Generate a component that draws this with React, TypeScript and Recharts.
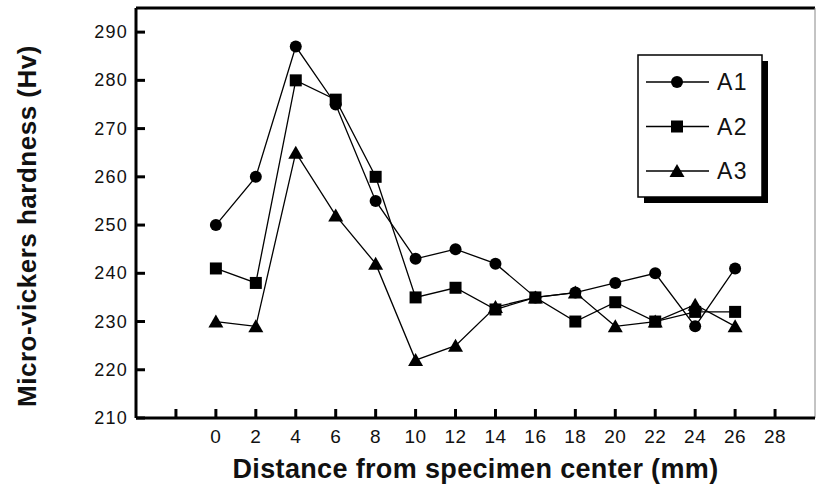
import { LineChart, Line, XAxis, YAxis, ReferenceLine } from "recharts"

const distance = [0, 2, 4, 6, 8, 10, 12, 14, 16, 18, 20, 22, 24, 26]
const a1 = [250, 260, 287, 275, 255, 243, 245, 242, 235, 236, 238, 240, 229, 241]
const a2 = [241, 238, 280, 276, 260, 235, 237, 232.5, 235, 230, 234, 230, 232, 232]
const a3 = [230, 229, 265, 252, 242, 222, 225, 233, 235, 236, 229, 230, 233.5, 229]
const xTicks = [-2, 0, 2, 4, 6, 8, 10, 12, 14, 16, 18, 20, 22, 24, 26, 28]
const yTicks = [210, 220, 230, 240, 250, 260, 270, 280, 290]

const data = distance.map((d, i) => ({ d, A1: a1[i], A2: a2[i], A3: a3[i] }))

const FONT = "'Liberation Sans', Arial, sans-serif"

function Marker({ cx, cy, shape }: { cx: number; cy: number; shape: string }) {
  if (shape === "circle") return <circle cx={cx} cy={cy} r={6} fill="#000" />
  if (shape === "square") return <rect x={cx - 6} y={cy - 6} width={12} height={12} fill="#000" />
  return <polygon points={`${cx},${cy - 7} ${cx + 7.5},${cy + 6} ${cx - 7.5},${cy + 6}`} fill="#000" />
}

const dot = (shape: string) => (p: any) => <Marker key={`${shape}-${p.index}`} cx={p.cx} cy={p.cy} shape={shape} />

function XTick(props: any) {
  const { x, y, payload } = props
  return (
    <g>
      <line x1={x} y1={y} x2={x} y2={y - 9} stroke="#000" strokeWidth={3} />
      {payload.value >= 0 && (
        <text x={x} y={y + 25} textAnchor="middle" fontSize={19} letterSpacing={0.5} fontFamily={FONT} fill="#111">
          {payload.value}
        </text>
      )}
    </g>
  )
}

function YTick(props: any) {
  const { x, y, payload } = props
  return (
    <g>
      <line x1={x} y1={y} x2={x + 9} y2={y} stroke="#000" strokeWidth={3} />
      <text x={x - 8} y={y + 6} textAnchor="end" fontSize={18} letterSpacing={1.2} fontFamily={FONT} fill="#111">
        {payload.value}
      </text>
    </g>
  )
}

const XTitle = (props: any) => {
  const vb = props.viewBox
  return (
    <text
      x={vb.x + vb.width / 2}
      y={478}
      textAnchor="middle"
      fontSize={27}
      letterSpacing={0.35}
      fontWeight={700}
      fontFamily={FONT}
      fill="#111"
    >
      Distance from specimen center (mm)
    </text>
  )
}

const YTitle = () => (
  <text
    x={0}
    y={0}
    transform="translate(36, 226) rotate(-90)"
    textAnchor="middle"
    fontSize={26}
    letterSpacing={0.5}
    fontWeight={700}
    fontFamily={FONT}
    fill="#111"
  >
    Micro-vickers hardness (Hv)
  </text>
)

// legend drawn outside the chart so it doesn't eat plot height
function LegendBox() {
  const rows = [
    { name: "A1", shape: "circle" },
    { name: "A2", shape: "square" },
    { name: "A3", shape: "triangle" },
  ]
  return (
    <svg width={134} height={152} style={{ position: "absolute", left: 637, top: 54 }}>
      <rect x={7} y={7} width={124} height={142} fill="#000" />
      <rect x={1} y={1} width={124} height={142} fill="#fff" stroke="#000" strokeWidth={1.5} />
      {rows.map((r, i) => {
        const cy = 28 + i * 44.5
        return (
          <g key={r.name}>
            <line x1={9} y1={cy} x2={72} y2={cy} stroke="#000" strokeWidth={1.3} />
            <Marker cx={40} cy={cy} shape={r.shape} />
            <text x={80} y={cy + 8} fontSize={23} letterSpacing={1.5} fontFamily={FONT} fill="#111">
              {r.name}
            </text>
          </g>
        )
      })}
    </svg>
  )
}

export default function App() {
  return (
    <div style={{ position: "absolute", left: 0, top: 0, width: 819, height: 495, background: "#fff" }}>
      <LineChart width={819} height={495} data={data} margin={{ top: 8, right: 4, left: 0, bottom: 0 }}>
        <XAxis
          dataKey="d"
          type="number"
          domain={[-4, 30]}
          ticks={xTicks}
          interval={0}
          tickSize={0}
          tickMargin={0}
          tickLine={false}
          tick={<XTick />}
          height={77}
          axisLine={{ stroke: "#000", strokeWidth: 3 }}
          label={<XTitle />}
        />
        <YAxis
          type="number"
          domain={[210, 295]}
          ticks={yTicks}
          interval={0}
          tickSize={0}
          tickMargin={0}
          tickLine={false}
          tick={<YTick />}
          width={136}
          axisLine={{ stroke: "#000", strokeWidth: 3 }}
          label={<YTitle />}
        />
        <ReferenceLine y={295} stroke="#000" strokeWidth={3} />
        <ReferenceLine x={30} stroke="#888" strokeWidth={1} />
        <Line dataKey="A3" stroke="#000" strokeWidth={1.3} dot={dot("triangle")} isAnimationActive={false} />
        <Line dataKey="A2" stroke="#000" strokeWidth={1.3} dot={dot("square")} isAnimationActive={false} />
        <Line dataKey="A1" stroke="#000" strokeWidth={1.3} dot={dot("circle")} isAnimationActive={false} />
      </LineChart>
      <LegendBox />
    </div>
  )
}
